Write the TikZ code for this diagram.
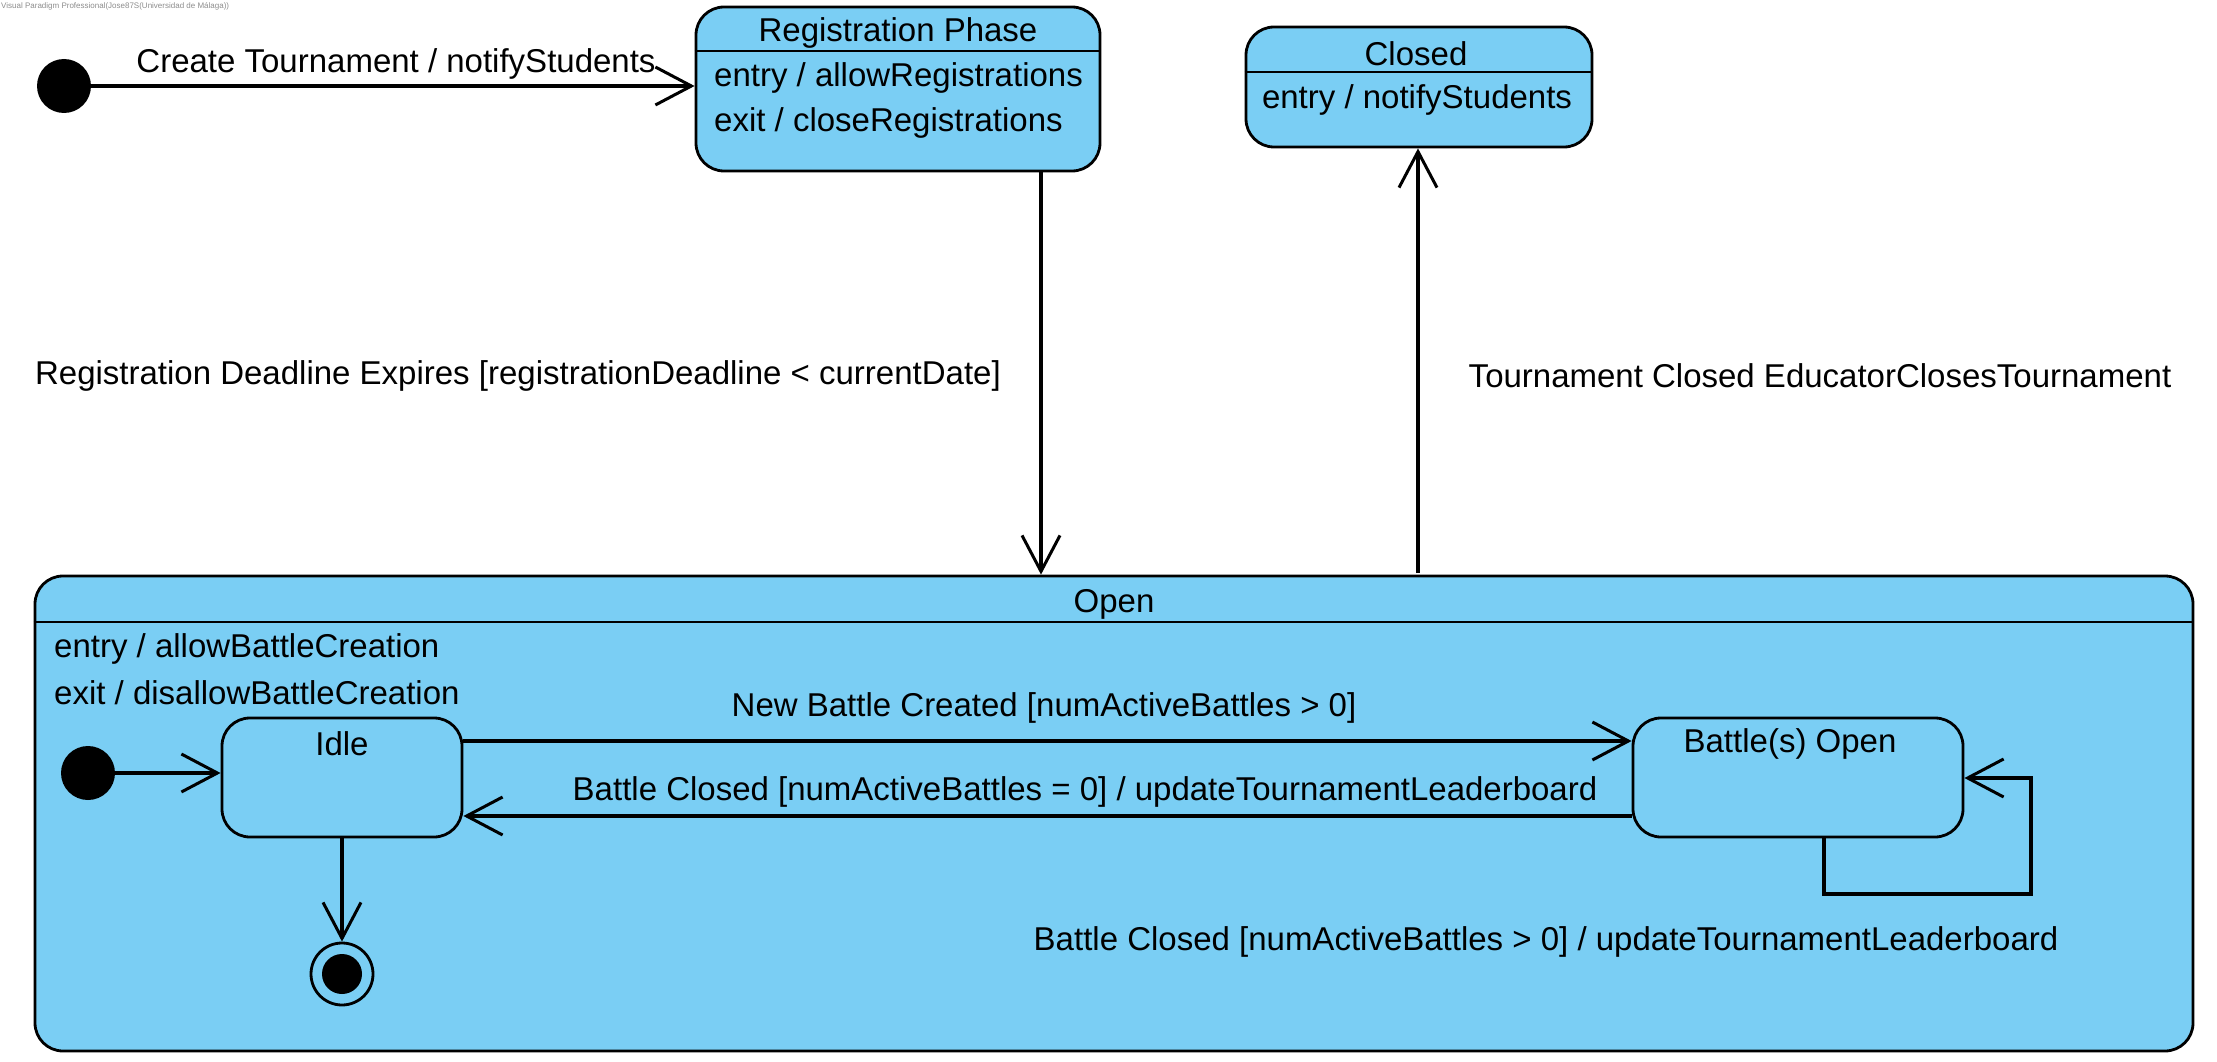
\documentclass[tikz,border=0pt]{standalone}
\usepackage{fontspec}
\setmainfont{Liberation Sans}
\usepackage{tikz}
\usetikzlibrary{positioning,arrows.meta}
\usepackage{xcolor}
\definecolor{statefill}{RGB}{122,206,244}
\tikzset{
	state/.style={%
		draw, line width=2.8pt, rounded corners=28pt,
		fill=statefill,
		minimum width=#1,
		inner sep=0pt
	},
	state/.default=300pt,
	lbl/.style={font=\fontsize{33}{39}\selectfont, inner sep=0pt},
	dot/.style={circle, fill=black, inner sep=0pt, minimum size=54pt},
	trans/.style={line width=3.2pt, ->},
	>={Straight Barb[length=36pt,width=38pt,line width=3pt]}
}
\begin{document}
\begin{tikzpicture}[x=1pt,y=-1pt]
		\useasboundingbox (0,0) rectangle (2217,1062);
		
		% watermark
		\node[anchor=north west, inner sep=0pt, text=black!45, font=\fontsize{8}{9}\selectfont] (vp) at (1,2) {Visual Paradigm Professional(Jose87S(Universidad de Málaga))};
		
		% top states
		\node[state=404pt, minimum height=164pt] (reg) at (898,89) {};
		\draw[line width=2pt] (reg.west |- 0,51) -- (reg.east |- 0,51);
		\node[lbl] (regname) at (898,33) {Registration Phase};
		\node[lbl, anchor=west] (regentry) at (714,78) {entry / allowRegistrations};
		\node[lbl, anchor=west] (regexit) at (714,123) {exit / closeRegistrations};
		
		\node[state=346pt, minimum height=120pt] (closed) at (1419,87) {};
		\draw[line width=2pt] (closed.west |- 0,72) -- (closed.east |- 0,72);
		\node[lbl] (closedname) at (1416,54) {Closed};
		\node[lbl] (closedentry) at (1417,100) {entry / notifyStudents};
		
		\node[dot] (init) at (64,86) {};
		
		% composite state
		\node[state=2158pt, minimum height=475pt] (open) at (1114,813.5) {};
		\draw[line width=2pt] (open.west |- 0,622) -- (open.east |- 0,622);
		\node[lbl] (openname) at (1114,604) {Open};
		\node[lbl, anchor=west] (openentry) at (54,649) {entry / allowBattleCreation};
		\node[lbl, anchor=west] (openexit) at (54,693) {exit / disallowBattleCreation};
		
		\node[dot] (initin) at (88,773) {};
		\node[state=240pt, minimum height=119pt] (idle) at (342,777.5) {};
		\node[lbl] (idlename) at (342,744) {Idle};
		\node[state=330pt, minimum height=119pt] (battle) at (1798,777.5) {};
		\node[lbl] (battlename) at (1790,744) {Battle(s) Open};
		
		\node[circle, draw, line width=2.8pt, fill=statefill, inner sep=0pt, minimum size=62pt] (final) at (342,974) {};
		\node[circle, fill=black, inner sep=0pt, minimum size=40pt] (finaldot) at (final) {};
		
		% transitions
		\draw[trans] (init) -- (reg.west |- init);
		\node[lbl] (createlbl) at (396,64) {Create Tournament / notifyStudents};
		
		\draw[trans] (reg.south -| 1041,0) -- (open.north -| 1041,0);
		\node[lbl] (deadlinelbl) at (518,376) {Registration Deadline Expires [registrationDeadline < currentDate]};
		
		\draw[trans] (1418,573) coordinate (closeout) -- (closed.south -| closeout);
		\node[lbl] (closelbl) at (1820,376) {Tournament Closed EducatorClosesTournament};
		
		\draw[trans] (initin) -- (idle.west |- initin);
		\draw[trans] (idle.south) -- (final.north);
		
		\draw[trans] (idle.east |- 0,741) -- (battle.west |- 0,741);
		\node[lbl] (newlbl) at (1044,708) {New Battle Created [numActiveBattles > 0]};
		
		\draw[trans] (battle.west |- 0,816) -- (idle.east |- 0,816);
		\node[lbl] (backlbl) at (1085,792) {Battle Closed [numActiveBattles = 0] / updateTournamentLeaderboard};
		
		\draw[trans] (battle.south -| 1824,0) |- (2031,894) |- (battle.east |- 0,778);
		\node[lbl] (looplbl) at (1546,942) {Battle Closed [numActiveBattles > 0] / updateTournamentLeaderboard};
		
		\end{tikzpicture}
\end{document}
